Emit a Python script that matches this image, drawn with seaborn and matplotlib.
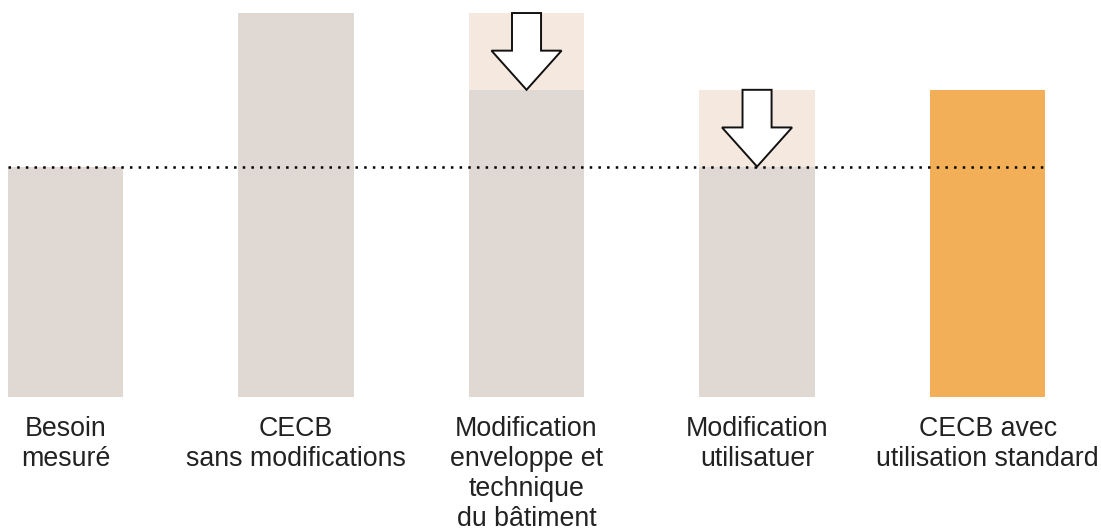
import matplotlib
matplotlib.use("Agg")
import matplotlib.pyplot as plt
import seaborn as sns
import pandas as pd

# chart values
categories = ["Besoin\nmesuré",
              "CECB\nsans modifications",
              "Modification\nenveloppe et\ntechnique\ndu bâtiment",
              "Modification\nutilisatuer",
              "CECB avec\nutilisation standard"]
base_values = [60, 100, 80, 60, 80]
reductions = [0, 0, 20, 20, 0]
reference_level = 60

base_colors = ["#E0D8D2", "#E0D8D2", "#E0D8D2", "#E0D8D2", "#F2AF58"]
top_color = "#F5E9DF"

sns.set_theme(style="white")
plt.rcParams["font.family"] = ["Liberation Sans", "DejaVu Sans"]

df = pd.DataFrame({"cat": categories, "base": base_values, "red": reductions})
df["total"] = df["base"] + df["red"]

fig = plt.figure(figsize=(11.01, 5.31), dpi=100)
ax = fig.add_axes([0, 134 / 531, 1, 397 / 531])

# light part (before reduction) drawn first, base bars drawn over it
sns.barplot(data=df, x="cat", y="total", hue="cat", palette=[top_color] * 5,
            width=0.5, legend=False, ax=ax, saturation=1, linewidth=0)
sns.barplot(data=df, x="cat", y="base", hue="cat", palette=base_colors,
            width=0.5, legend=False, ax=ax, saturation=1, linewidth=0)

# dotted reference line
ax.hlines(reference_level, -0.25, 4.25, colors="black", lw=1.8,
          linestyles=(0, (1, 2.47)), zorder=5)

# hollow arrows showing the reduction
for i, row in df.iterrows():
    if row["red"] > 0:
        ax.arrow(i, row["total"], 0, -row["red"], width=0.126, head_width=0.304,
                 head_length=10.2, length_includes_head=True,
                 fc="white", ec="#111111", lw=1.4, zorder=6)

ax.set_xlim(-0.284, 4.492)
ax.set_ylim(0, 103.39)
ax.set_xlabel("")
ax.set_ylabel("")
ax.set_yticks([])
sns.despine(ax=ax, left=True, bottom=True)
ax.tick_params(axis="x", length=0, pad=14, labelsize=19.3, labelcolor="#222222")
for lab in ax.get_xticklabels():
    lab.set_linespacing(1.2)

fig.savefig("out.png", dpi=100)
